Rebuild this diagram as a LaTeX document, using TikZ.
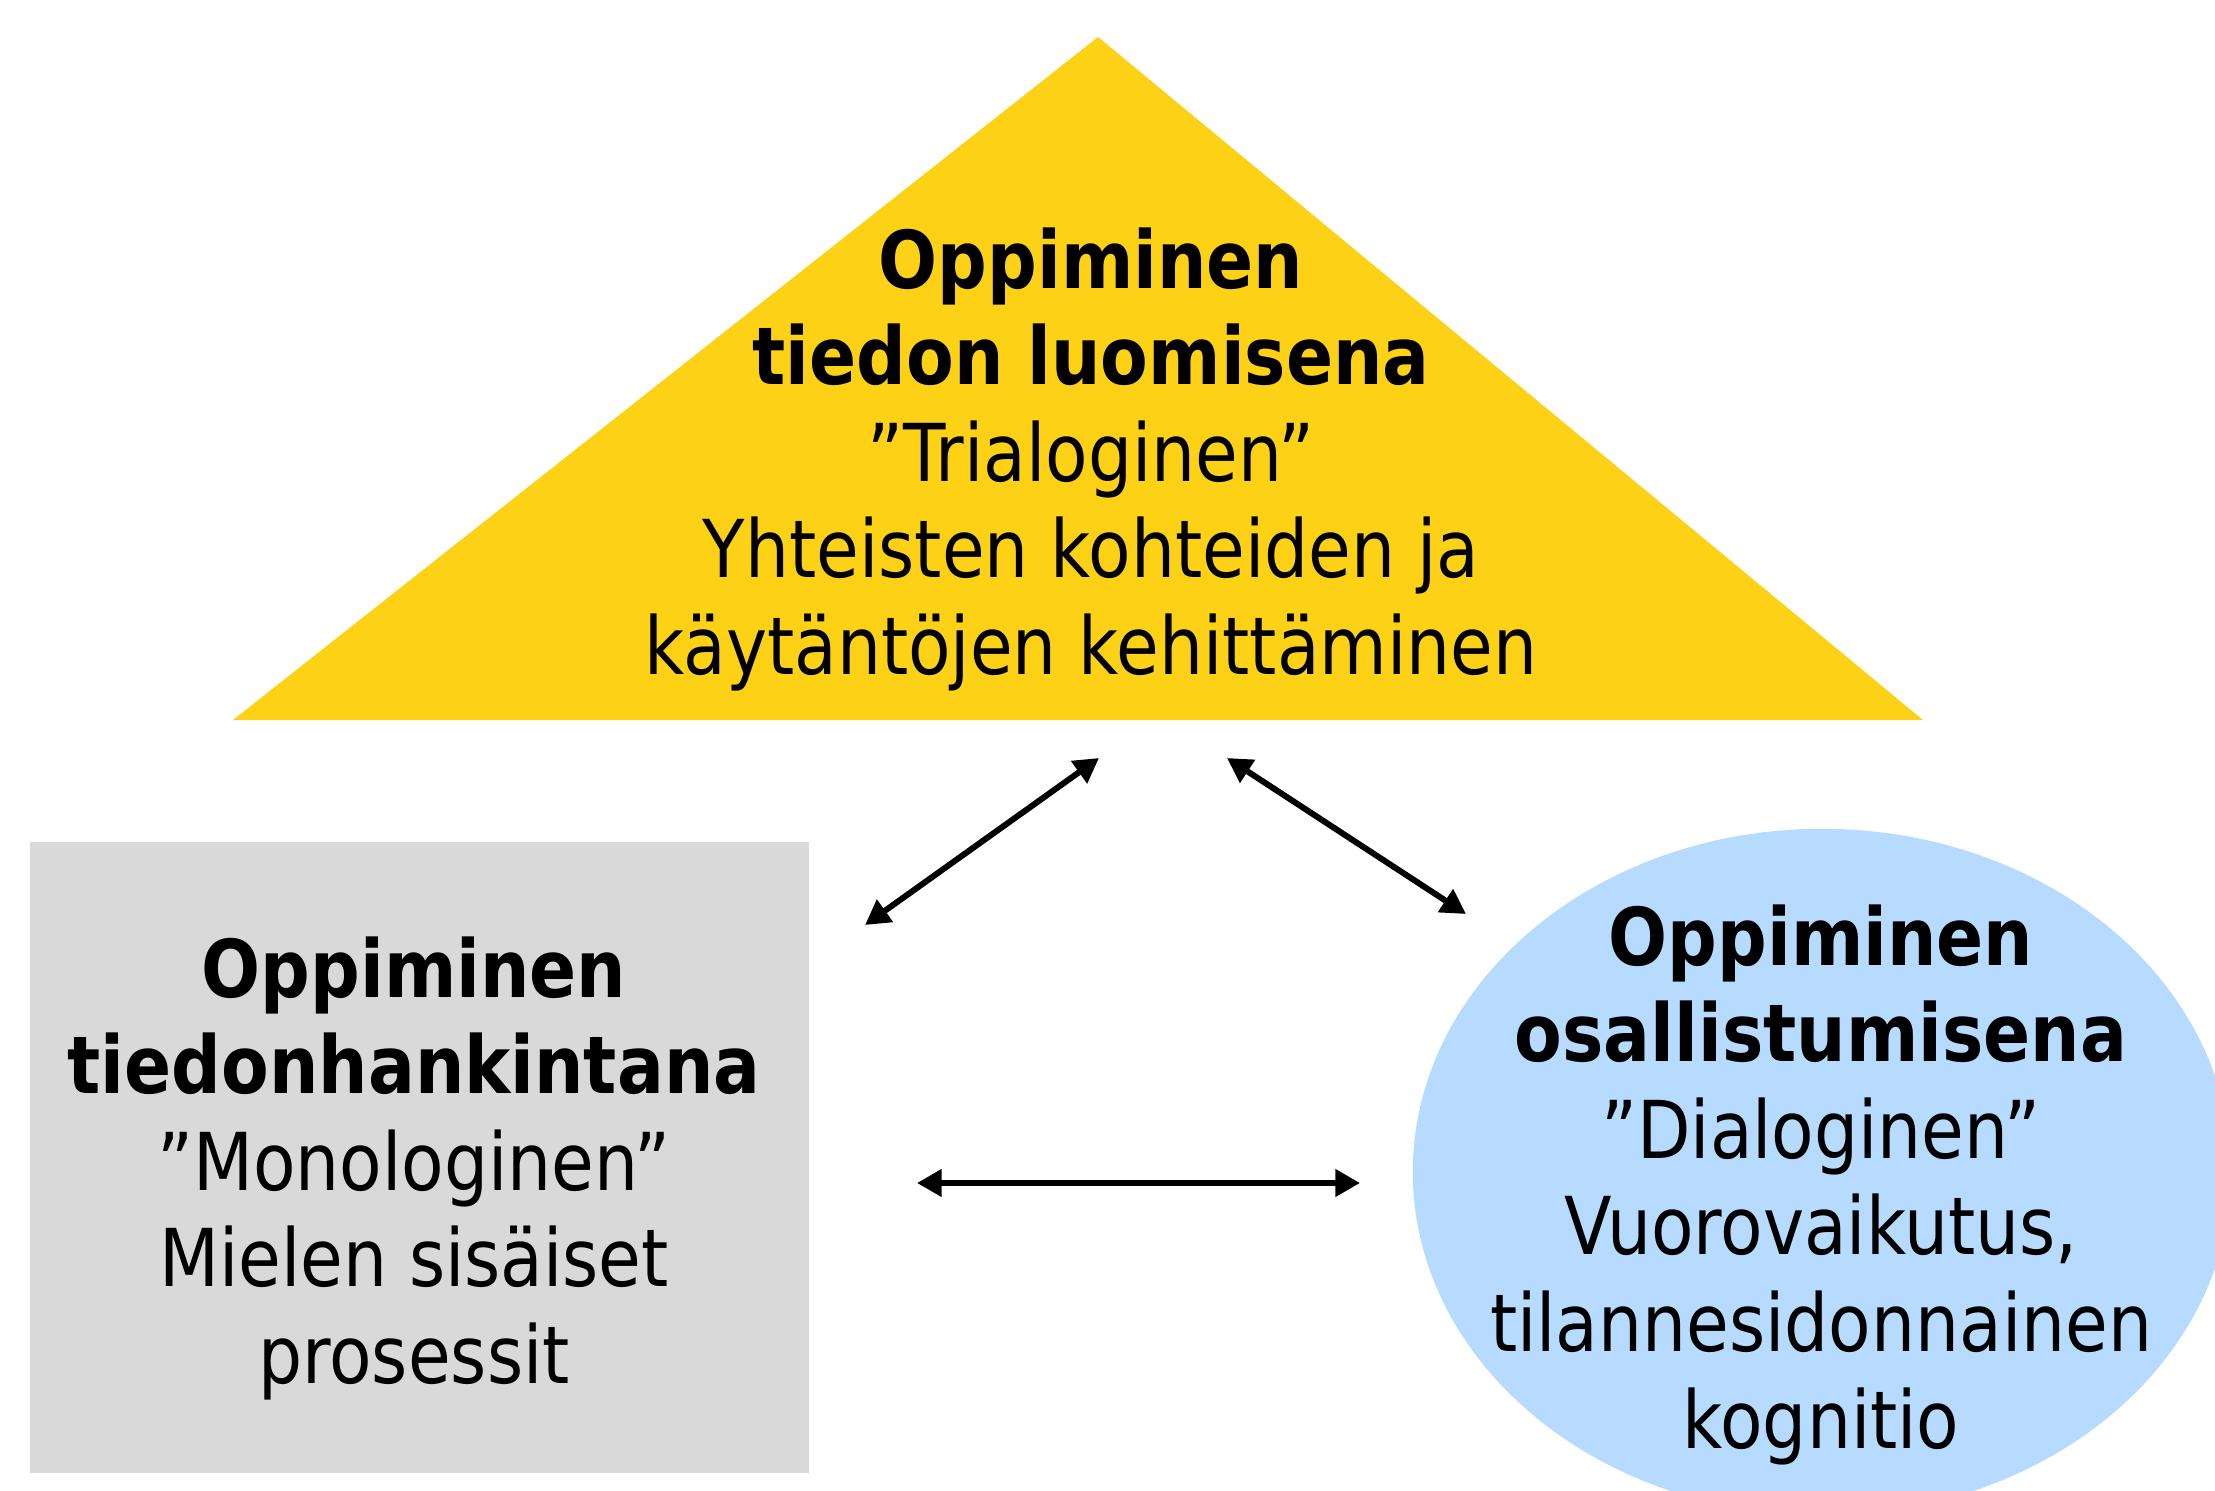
\documentclass[tikz,border=0pt]{standalone}
\usepackage{fontspec}
\setmainfont{DejaVu Sans}[FakeStretch=0.87]
\usetikzlibrary{arrows.meta,positioning}
\definecolor{luomisgold}{RGB}{252,209,22}
\definecolor{hankintagray}{RGB}{217,217,217}
\definecolor{osallistublue}{RGB}{183,218,255}
\tikzset{
    kehatext/.style={align=center, anchor=north, inner sep=0pt, font=\fontsize{22.7pt}{27.45pt}\selectfont},
    kaksisuunta/.style={{Triangle[length=7pt,width=7.5pt]}-{Triangle[length=7pt,width=7.5pt]}, line width=1.7pt}
}
\begin{document}
\begin{tikzpicture}[x=0.01cm, y=-0.01cm]
    \useasboundingbox (0, 0) rectangle (2215, 1491);
    \clip (0, 0) rectangle (2215, 1491);
    \fill[luomisgold] (1098, 37) -- (1923, 720) -- (233, 720) -- cycle;
    \fill[hankintagray] (30, 842) rectangle (809, 1473);
    \fill[osallistublue] (1822, 1172) ellipse [x radius=4.09cm, y radius=3.43cm];
    \node[kehatext] (luominen) at (1091, 227) {\textbf{Oppiminen}\\\textbf{tiedon luomisena}\\”Trialoginen”\\Yhteisten kohteiden ja\\käytäntöjen kehittäminen};
    \node[kehatext] (hankinta) at (414, 936) {\textbf{Oppiminen}\\\textbf{tiedonhankintana}\\”Monologinen”\\Mielen sisäiset\\prosessit};
    \node[kehatext] (osallistuminen) at (1821, 904) {\textbf{Oppiminen}\\\textbf{osallistumisena}\\”Dialoginen”\\Vuorovaikutus,\\tilannesidonnainen\\kognitio};
    \coordinate (luominen-vasen) at (1099, 758);
    \coordinate (luominen-oikea) at (1227, 758);
    \coordinate (hankinta-ylä) at (865, 925);
    \coordinate (hankinta-sivu) at (917, 1183);
    \coordinate (osallistuminen-ylä) at (1466, 914);
    \coordinate (osallistuminen-sivu) at (1360, 1183);
    \draw[kaksisuunta] (hankinta-ylä) -- (luominen-vasen);
    \draw[kaksisuunta] (luominen-oikea) -- (osallistuminen-ylä);
    \draw[kaksisuunta] (hankinta-sivu) -- (osallistuminen-sivu);
\end{tikzpicture}
\end{document}
